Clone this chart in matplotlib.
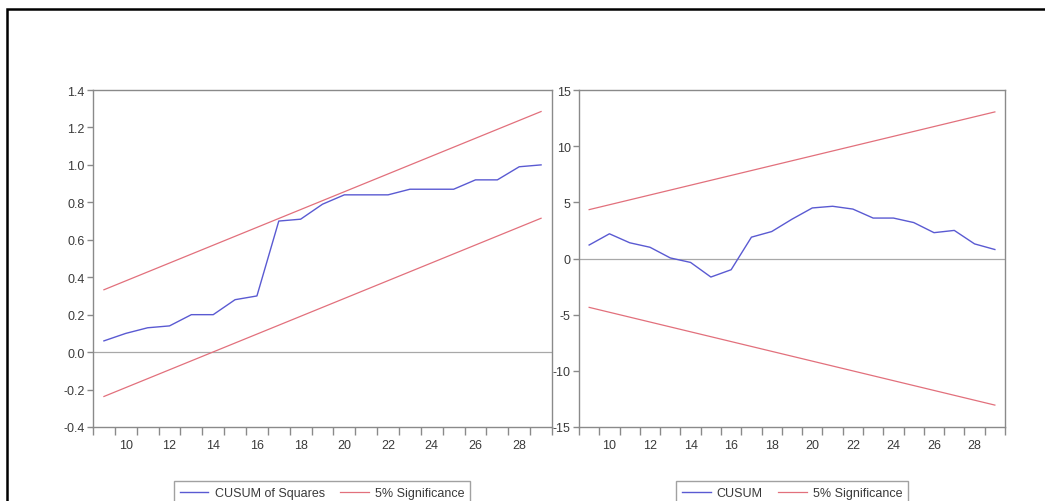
import matplotlib
matplotlib.use("Agg")
import matplotlib.pyplot as plt
import numpy as np
from matplotlib.patches import Rectangle
from matplotlib.ticker import FixedLocator

plt.rcParams['font.family'] = ['Liberation Sans Narrow', 'Liberation Sans', 'DejaVu Sans']

# ---- data ----
obs = [9, 10, 11, 12, 13, 14, 15, 16, 17, 18, 19, 20, 21, 22, 23, 24, 25, 26, 27, 28, 29]
cusum_sq = [0.06, 0.10, 0.13, 0.14, 0.20, 0.20, 0.28, 0.30, 0.70, 0.71, 0.79, 0.84,
            0.84, 0.84, 0.87, 0.87, 0.87, 0.92, 0.92, 0.99, 1.00]
sq_bound_x = [9, 29]
sq_upper = [0.333, 1.285]
sq_lower = [-0.237, 0.715]

cusum = [1.2, 2.2, 1.4, 1.0, 0.05, -0.35, -1.65, -1.0, 1.9, 2.4, 3.5, 4.5,
         4.65, 4.4, 3.6, 3.6, 3.2, 2.3, 2.5, 1.3, 0.8]
cs_bound_x = [9, 29]
cs_upper = [4.35, 13.05]
cs_lower = [-4.35, -13.05]

x_labels = [10, 12, 14, 16, 18, 20, 22, 24, 26, 28]
left_yticks = [-0.4, -0.2, 0.0, 0.2, 0.4, 0.6, 0.8, 1.0, 1.2, 1.4]
right_yticks = [-15, -10, -5, 0, 5, 10, 15]

BLUE = '#5a5ad2'
RED = '#e2707c'
GREY = '#8a8a8a'
TXT = '#3a3a3a'

W, H = 1045, 502
fig = plt.figure(figsize=(W / 100, H / 100), dpi=100)

def px_axes(x0, x1, ytop, ybot):
    return fig.add_axes([x0 / W, 1 - ybot / H, (x1 - x0) / W, (ybot - ytop) / H])

def style(ax, yticks, ylim, yfmt):
    ax.set_xlim(8.5, 29.5)
    ax.set_ylim(*ylim)
    for s in ax.spines.values():
        s.set_color(GREY)
        s.set_linewidth(1.0)
    ax.xaxis.set_major_locator(FixedLocator(x_labels))
    ax.xaxis.set_minor_locator(FixedLocator(np.arange(8.5, 30, 1.0)))
    ax.set_xticklabels([str(v) for v in x_labels])
    ax.tick_params(axis='x', which='major', length=0, pad=9, labelsize=9, labelcolor=TXT)
    ax.tick_params(axis='x', which='minor', length=6, width=1, color=GREY, direction='out')
    ax.set_yticks(yticks)
    ax.set_yticklabels([yfmt(v) for v in yticks])
    ax.tick_params(axis='y', which='major', length=4, width=1, color=GREY, pad=2,
                   labelsize=9, labelcolor=TXT, direction='out')
    ax.axhline(0, color='#a8a8a8', lw=0.9, zorder=1)

# left panel
ax1 = px_axes(93, 552, 91, 428)
style(ax1, left_yticks, (-0.4, 1.4), lambda v: f"{v:.1f}")
l1, = ax1.plot(obs, cusum_sq, color=BLUE, lw=1.0, label='CUSUM of Squares', zorder=3)
r1, = ax1.plot(sq_bound_x, sq_upper, color=RED, lw=0.9, label='5% Significance', zorder=2)
ax1.plot(sq_bound_x, sq_lower, color=RED, lw=0.9, zorder=2)

# right panel
ax2 = px_axes(579, 1005, 91, 428)
style(ax2, right_yticks, (-15, 15), lambda v: f"{v:d}")
l2, = ax2.plot(obs, cusum, color=BLUE, lw=1.0, label='CUSUM', zorder=3)
r2, = ax2.plot(cs_bound_x, cs_upper, color=RED, lw=0.9, label='5% Significance', zorder=2)
ax2.plot(cs_bound_x, cs_lower, color=RED, lw=0.9, zorder=2)

leg_kw = dict(loc='upper center', ncol=2, frameon=True, fancybox=False, fontsize=9,
              handlelength=2.3, handletextpad=0.5, columnspacing=1.2,
              borderpad=0.45, edgecolor=GREY, labelcolor=TXT)
lg1 = fig.legend(handles=[l1, r1], bbox_to_anchor=(322 / W, 1 - 476 / H), **leg_kw)
lg2 = fig.legend(handles=[l2, r2], bbox_to_anchor=(792 / W, 1 - 476 / H), **leg_kw)
for lg in (lg1, lg2):
    lg.get_frame().set_linewidth(1.0)

# outer frame
fig.add_artist(Rectangle((7 / W, -0.1), 1.2, 1 - 10 / H + 0.1, transform=fig.transFigure,
                         fill=False, edgecolor='black', lw=1.8))

fig.savefig('out.png', dpi=100)
